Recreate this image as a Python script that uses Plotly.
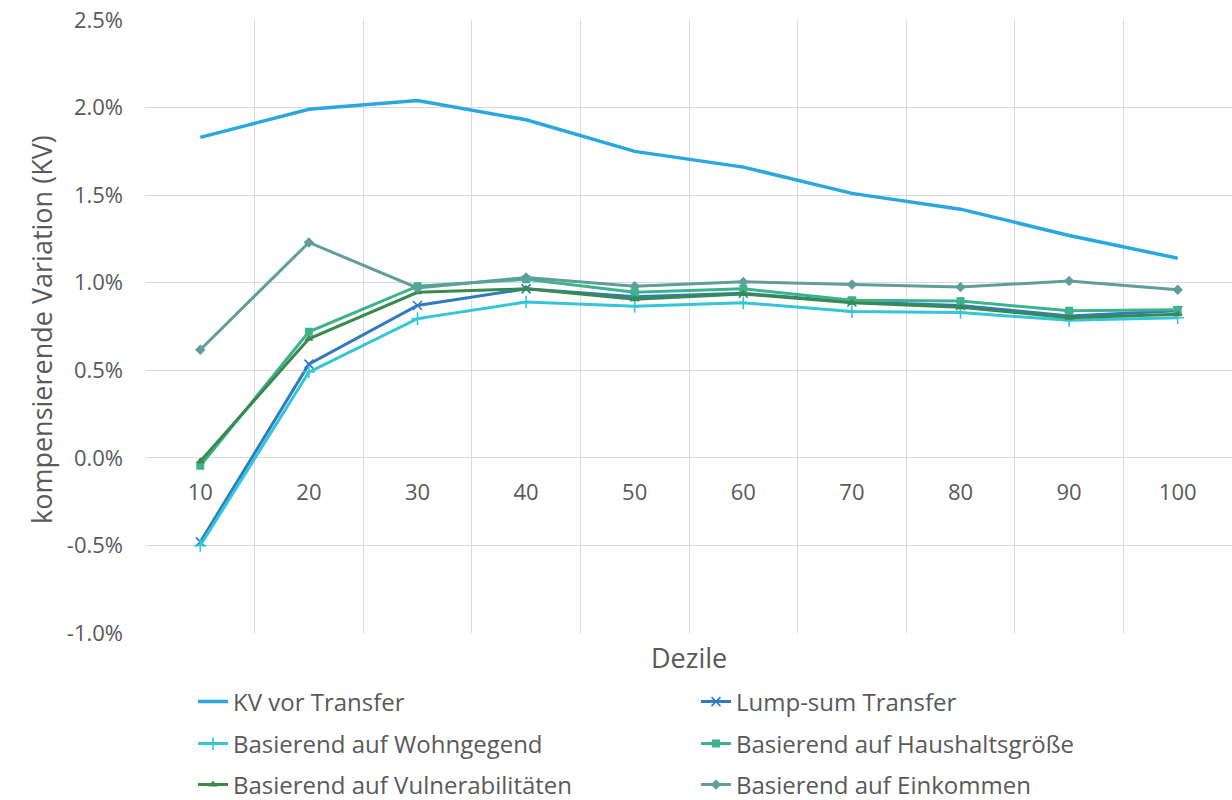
import plotly.graph_objects as go

# Dezile (income deciles)
deciles = ["10", "20", "30", "40", "50", "60", "70", "80", "90", "100"]

# kompensierende Variation in percent
kv_vor_transfer = [1.83, 1.99, 2.04, 1.93, 1.75, 1.66, 1.51, 1.42, 1.27, 1.14]
lump_sum = [-0.48, 0.535, 0.87, 0.965, 0.92, 0.94, 0.89, 0.87, 0.81, 0.84]
wohngegend = [-0.50, 0.49, 0.795, 0.89, 0.865, 0.885, 0.835, 0.83, 0.785, 0.80]
haushaltsgroesse = [-0.045, 0.72, 0.98, 1.02, 0.945, 0.965, 0.90, 0.895, 0.84, 0.845]
vulnerabilitaeten = [-0.02, 0.68, 0.945, 0.965, 0.905, 0.935, 0.885, 0.86, 0.80, 0.82]
einkommen = [0.617, 1.23, 0.97, 1.03, 0.98, 1.005, 0.99, 0.975, 1.01, 0.96]

# y-axis ticks
y_ticks = [-1.0, -0.5, 0.0, 0.5, 1.0, 1.5, 2.0, 2.5]
y_tick_labels = ["-1.0%", "-0.5%", "0.0%", "0.5%", "1.0%", "1.5%", "2.0%", "2.5%"]

TEXT = "#595959"
GRID = "#D9D9D9"
FONT = "Open Sans"

W, H = 1232, 800
L, R, T, B = 146, 0, 20, 167
plot_w = W - L - R
plot_h = H - T - B
Y_MIN, Y_MAX = -1.0, 2.5

fig = go.Figure()

series = [
    ("KV vor Transfer", kv_vor_transfer, "#29A8DF", None, 3.5, "legend"),
    ("Lump-sum Transfer", lump_sum, "#2E7BC4", "x-thin", 3, "legend"),
    ("Basierend auf Wohngegend", wohngegend, "#33C6D6", "cross-thin", 3, "legend2"),
    ("Basierend auf Haushaltsgröße", haushaltsgroesse, "#3DB38C", "square", 3, "legend2"),
    ("Basierend auf Vulnerabilitäten", vulnerabilitaeten, "#3A8A4E", "triangle-up", 3, "legend3"),
    ("Basierend auf Einkommen", einkommen, "#5F9E9A", "diamond", 3, "legend3"),
]

for name, vals, color, sym, lw, leg in series:
    if sym is None:
        mode = "lines"
        marker = None
    else:
        mode = "lines+markers"
        thin = sym.endswith("-thin")
        marker = dict(
            symbol=sym,
            size=8 if not thin else 9,
            color=color,
            line=dict(color=color, width=1.6 if thin else 0),
        )
    fig.add_trace(go.Scatter(
        x=deciles, y=vals, name=name, mode=mode,
        line=dict(color=color, width=lw),
        marker=marker,
        legend=leg,
    ))

zero_pos = (0 - Y_MIN) / (Y_MAX - Y_MIN)


def px_x(px):
    return (px - L) / plot_w


def px_y(py):
    return (H - B - py) / plot_h


legend_common = dict(
    orientation="h",
    x=px_x(193),
    xanchor="left",
    yanchor="middle",
    entrywidth=458,
    font=dict(family=FONT, size=24, color=TEXT),
    bgcolor="rgba(0,0,0,0)",
    itemwidth=30,
    tracegroupgap=0,
)

fig.update_layout(
    width=W, height=H,
    margin=dict(l=L, r=R, t=T, b=B, autoexpand=False),
    plot_bgcolor="white",
    paper_bgcolor="white",
    font=dict(family=FONT, color=TEXT),
    showlegend=True,
    legend=dict(legend_common, y=px_y(702)),
    legend2=dict(legend_common, y=px_y(744)),
    legend3=dict(legend_common, y=px_y(785)),
    xaxis=dict(
        type="category",
        range=[-0.5, 9.5],
        tickson="boundaries",
        showgrid=True, gridcolor=GRID, gridwidth=1,
        showline=False, zeroline=False, ticks="",
        anchor="free", position=zero_pos,
        tickfont=dict(family=FONT, size=22, color=TEXT),
        ticklabelstandoff=19,
    ),
    yaxis=dict(
        range=[Y_MIN, Y_MAX],
        tickmode="array",
        tickvals=y_ticks,
        ticktext=y_tick_labels,
        showgrid=True, gridcolor=GRID, gridwidth=1,
        zeroline=False, showline=False, ticks="",
        tickfont=dict(family=FONT, size=22, color=TEXT),
        ticklabelstandoff=22,
    ),
    annotations=[
        dict(text="Dezile", xref="paper", yref="paper",
             x=px_x(689), y=px_y(657), xanchor="center", yanchor="middle",
             showarrow=False, font=dict(family=FONT, size=27, color=TEXT)),
        dict(text="kompensierende Variation (KV)", xref="paper", yref="paper",
             x=px_x(41), y=px_y(330), xanchor="center", yanchor="middle",
             textangle=-90, showarrow=False,
             font=dict(family=FONT, size=27, color=TEXT)),
    ],
)

fig.write_html("out.html")
